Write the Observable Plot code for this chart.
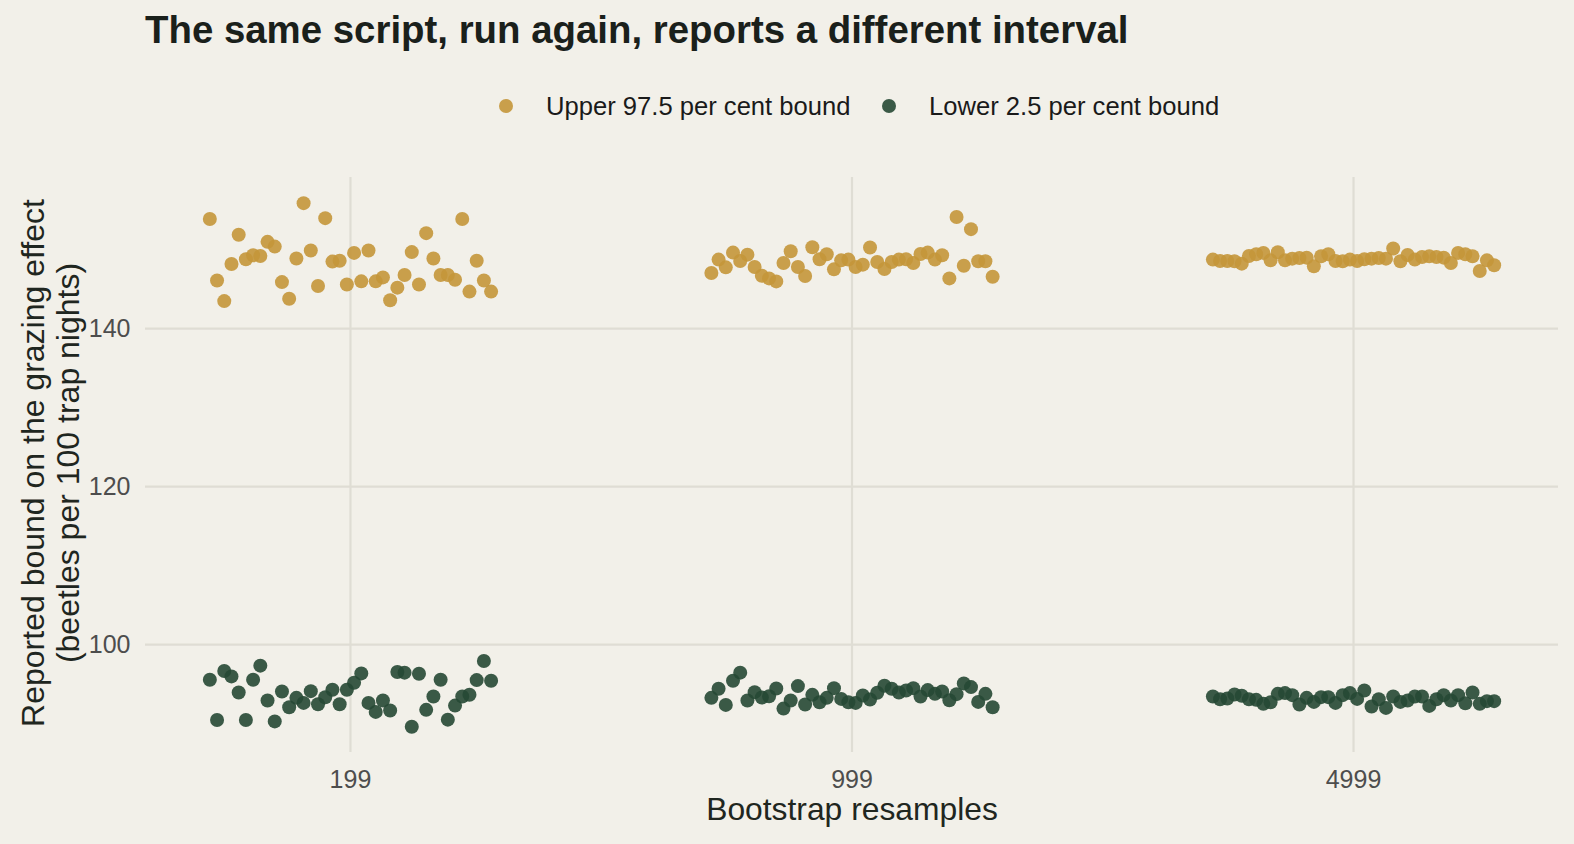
<!DOCTYPE html>
<html>
<head>
<meta charset="utf-8">
<script src="https://cdn.jsdelivr.net/npm/d3@7"></script>
<script src="https://cdn.jsdelivr.net/npm/@observablehq/plot@0.6"></script>
<style>
  html, body { margin: 0; padding: 0; background: #F2F0E9; overflow: hidden; }
  body { width: 1574px; height: 844px; font-family: "Liberation Sans", Arial, Helvetica, sans-serif; }
  #header { position: relative; width: 1574px; height: 150px; }
  #title { position: absolute; left: 145px; top: 11px; font-size: 38.4px; line-height: 1; font-weight: bold; color: #1A201B; white-space: nowrap; }
  .item { position: absolute; top: 93px; height: 26px; display: flex; align-items: center; font-size: 25.6px; color: #1A1A1A; white-space: nowrap; }
  .sw { width: 14px; height: 14px; border-radius: 50%; margin-right: 33px; }
  #chart svg { display: block; }
</style>
</head>
<body>
<div id="header">
  <div id="title">The same script, run again, reports a different interval</div>
  <div id="legend"></div>
</div>
<div id="chart"></div>
<script>
// ---- data ----
const resamples = ["199", "999", "4999"];
const seriesNames = ["Upper 97.5 per cent bound", "Lower 2.5 per cent bound"];
const seriesColors = ["#C4963A", "#264834"];
const yTicks = [100, 120, 140];
const xLabel = "Bootstrap resamples";
const yLabel = "Reported bound on the grazing effect\n(beetles per 100 trap nights)";

const upper199 = [153.9,146.1,143.5,148.2,151.9,148.8,149.3,149.2,151.0,150.4,145.9,143.8,148.9,155.9,149.9,145.4,154.0,148.5,148.6,145.6,149.6,146.0,149.9,146.0,146.5,143.6,145.2,146.8,149.7,145.6,152.1,148.9,146.8,146.8,146.2,153.9,144.7,148.6,146.1,144.7];
const lower199 = [95.55,90.45,96.65,95.97,93.93,90.45,95.55,97.33,92.91,90.27,94.06,92.06,93.25,92.61,94.10,92.44,93.33,94.27,92.44,94.27,95.16,96.35,92.61,91.47,92.91,91.64,96.52,96.44,89.60,96.31,91.73,93.42,95.55,90.49,92.27,93.42,93.64,95.50,97.92,95.42];
const upper999 = [147.05,148.75,147.77,149.64,148.58,149.38,147.81,146.71,146.37,145.99,148.32,149.81,147.81,146.67,150.32,148.79,149.43,147.52,148.66,148.75,147.81,148.11,150.28,148.45,147.56,148.45,148.75,148.79,148.32,149.47,149.64,148.75,149.30,146.37,154.14,147.98,152.61,148.54,148.54,146.58];
const lower999 = [93.25,94.40,92.36,95.42,96.44,92.91,93.97,93.29,93.46,94.44,91.89,92.91,94.74,92.40,93.63,92.70,93.25,94.48,93.12,92.70,92.61,93.55,93.04,93.89,94.78,94.40,93.93,94.19,94.48,93.42,94.23,93.76,94.06,92.95,93.72,95.08,94.61,92.74,93.76,92.06];
const upper4999 = [148.75,148.58,148.58,148.54,148.24,149.21,149.43,149.60,148.66,149.68,148.66,148.87,148.96,149.00,147.90,149.17,149.43,148.58,148.54,148.75,148.58,148.79,148.87,148.96,148.87,150.15,148.54,149.34,148.75,149.09,149.17,149.09,149.00,148.32,149.60,149.43,149.17,147.30,148.66,148.03];
const lower4999 = [93.42,93.08,93.17,93.68,93.51,93.08,93.00,92.49,92.70,93.76,93.85,93.59,92.40,93.25,92.74,93.34,93.34,92.61,93.59,93.85,93.12,94.19,92.15,93.08,91.98,93.42,92.74,92.91,93.42,93.42,92.23,93.08,93.59,92.91,93.59,92.57,93.93,92.49,92.83,92.83];

const upperByGroup = [upper199, upper999, upper4999];
const lowerByGroup = [lower199, lower999, lower4999];

// ---- table (run index spread evenly across each resample group) ----
const spread = 0.01438;
const rows = [];
resamples.forEach((g, gi) => {
  [upperByGroup[gi], lowerByGroup[gi]].forEach((vals, si) => {
    const mid = (vals.length - 1) / 2;
    vals.forEach((v, i) => {
      rows.push({group: gi, pos: gi + (i - mid) * spread, value: v, bound: seriesNames[si]});
    });
  });
});

// ---- legend ----
const legend = document.getElementById("legend");
const legendLeft = [499, 882];
seriesNames.forEach((name, i) => {
  const item = document.createElement("div");
  item.className = "item";
  item.style.left = legendLeft[i] + "px";
  const sw = document.createElement("div");
  sw.className = "sw";
  sw.style.background = seriesColors[i];
  sw.style.opacity = 0.9;
  const t = document.createElement("span");
  t.textContent = name;
  item.appendChild(sw);
  item.appendChild(t);
  legend.appendChild(item);
});

// ---- chart ----
const grid = {stroke: "#DFDDD4", strokeOpacity: 1, strokeWidth: 2.2};
const chart = Plot.plot({
  width: 1574,
  height: 694,
  marginTop: 27,
  marginBottom: 92,
  marginLeft: 145,
  marginRight: 16,
  style: {background: "transparent", fontFamily: "'Liberation Sans', Arial, Helvetica, sans-serif", overflow: "visible"},
  x: {domain: [-0.4087, resamples.length - 1 + 0.4087], axis: null},
  y: {domain: [86.33, 159.15], axis: null},
  color: {domain: seriesNames, range: seriesColors},
  marks: [
    Plot.gridY(yTicks, grid),
    Plot.gridX(d3.range(resamples.length), grid),
    Plot.axisY(yTicks, {tickSize: 0, tickPadding: 15, fontSize: 25, fill: "#4D4D4D", label: null}),
    Plot.axisX(d3.range(resamples.length), {tickSize: 0, tickPadding: 18, fontSize: 25, fill: "#4D4D4D", label: null, tickFormat: i => resamples[i]}),
    Plot.dot(rows, {x: "pos", y: "value", fill: "bound", r: 7, fillOpacity: 0.9, stroke: "none"}),
    Plot.text([xLabel], {text: d => d, frameAnchor: "bottom", lineAnchor: "middle", dy: 57, fontSize: 31.8, fill: "#1F2620"}),
    Plot.text([yLabel], {text: d => d, frameAnchor: "left", textAnchor: "middle", lineAnchor: "middle", rotate: -90, dx: -95.5, dy: -2, fontSize: 32, lineHeight: 1.1, fill: "#1F2620"})
  ]
});
document.getElementById("chart").appendChild(chart);
</script>
</body>
</html>
